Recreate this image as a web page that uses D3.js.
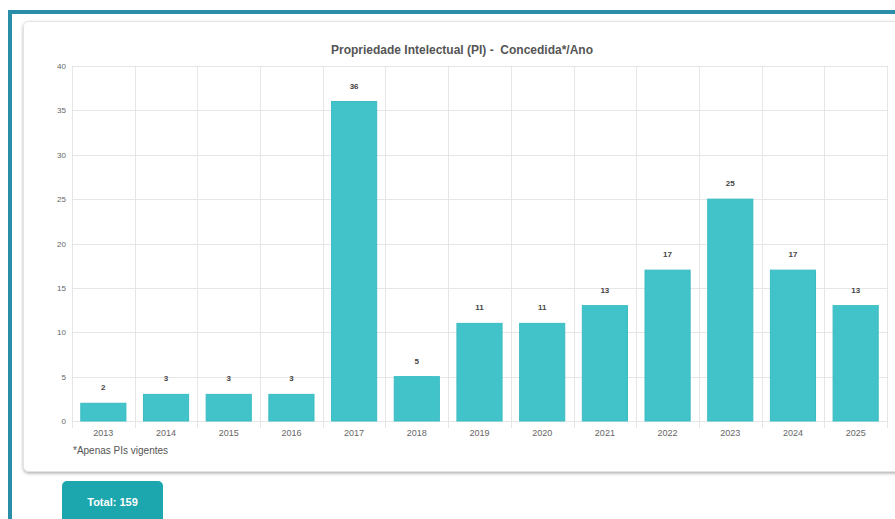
<!DOCTYPE html>
<html>
<head>
<meta charset="utf-8">
<script src="https://cdn.jsdelivr.net/npm/d3@7"></script>
<style>
  html, body { margin: 0; padding: 0; background: #fff; }
  svg { display: block; font-family: "Liberation Sans", Arial, Helvetica, sans-serif; }
</style>
</head>
<body>
<svg id="chart" width="895" height="519"></svg>
<script>
// dados
const anos = ['2013', '2014', '2015', '2016', '2017', '2018', '2019', '2020', '2021', '2022', '2023', '2024', '2025']
const concedidas = [2, 3, 3, 3, 36, 5, 11, 11, 13, 17, 25, 17, 13]
const yTicks = [0, 5, 10, 15, 20, 25, 30, 35, 40]
const titulo = 'Propriedade Intelectual (PI) -  Concedida*/Ano'
const nota = '*Apenas PIs vigentes'
const total = concedidas.reduce((a, b) => a + b, 0)

const svg = d3.select('#chart')

// sombra do card
const defs = svg.append('defs')
const f = defs.append('filter').attr('id', 'sombra')
  .attr('x', '-5%').attr('y', '-5%').attr('width', '110%').attr('height', '115%')
f.append('feDropShadow')
  .attr('dx', 0).attr('dy', 1.5).attr('stdDeviation', 1.5)
  .attr('flood-color', '#000').attr('flood-opacity', 0.3)

// moldura azul
svg.append('rect').attr('x', 8).attr('y', 10).attr('width', 4).attr('height', 519).attr('fill', '#2a8ea8')
svg.append('rect').attr('x', 8).attr('y', 10).attr('width', 895).attr('height', 4).attr('fill', '#2a8ea8')

// card
svg.append('rect')
  .attr('x', 23.5).attr('y', 21.5)
  .attr('width', 900).attr('height', 450)
  .attr('rx', 5)
  .attr('fill', '#fff')
  .attr('stroke', '#e3e3e3')
  .attr('filter', 'url(#sombra)')

const x = d3.scaleBand().domain(anos).range([72, 887]).padding(0)
const y = d3.scaleLinear().domain([0, 40]).range([421, 66])

const g = svg.append('g')

// grade horizontal
g.append('g').selectAll('line')
  .data(yTicks)
  .join('line')
  .attr('x1', 72).attr('x2', 887)
  .attr('y1', d => Math.round(y(d)) + 0.5)
  .attr('y2', d => Math.round(y(d)) + 0.5)
  .attr('stroke', '#e6e6e6')

// grade vertical
const limites = anos.map(a => x(a)).concat([x.range()[1]])
g.append('g').selectAll('line')
  .data(limites)
  .join('line')
  .attr('x1', d => Math.round(d) + 0.5).attr('x2', d => Math.round(d) + 0.5)
  .attr('y1', 66).attr('y2', 428)
  .attr('stroke', '#e6e6e6')

// eixo y
const yAxis = g.append('g')
  .attr('transform', 'translate(66,0)')
  .call(d3.axisLeft(y).tickValues(yTicks).tickSize(0).tickPadding(0))
yAxis.select('.domain').remove()
yAxis.selectAll('text')
  .attr('fill', '#666')
  .style('font-size', '8px')
  .style('font-family', '"Liberation Sans", Arial, sans-serif')

// eixo x
const xAxis = g.append('g')
  .attr('transform', 'translate(0,428)')
  .call(d3.axisBottom(x).tickSize(0).tickPadding(2))
xAxis.select('.domain').remove()
xAxis.selectAll('text')
  .attr('fill', '#666')
  .style('font-size', '9px')
  .style('font-family', '"Liberation Sans", Arial, sans-serif')

// barras
const larg = x.bandwidth() * 0.72
const dados = anos.map((a, i) => ({ ano: a, v: concedidas[i] }))
g.append('g').selectAll('rect')
  .data(dados)
  .join('rect')
  .attr('x', d => x(d.ano) + (x.bandwidth() - larg) / 2)
  .attr('y', d => y(d.v))
  .attr('width', larg)
  .attr('height', d => y(0) - y(d.v))
  .attr('fill', '#41c3c9')
  .attr('stroke', '#3bbcc3')
  .attr('stroke-width', 1)

// rótulos de valor
g.append('g').selectAll('text')
  .data(dados)
  .join('text')
  .attr('x', d => x(d.ano) + x.bandwidth() / 2)
  .attr('y', d => y(d.v) - 13)
  .attr('text-anchor', 'middle')
  .attr('fill', '#444')
  .style('font-size', '8px')
  .style('font-weight', 'bold')
  .text(d => d.v)

// título
svg.append('text')
  .attr('x', 462).attr('y', 54)
  .attr('text-anchor', 'middle')
  .attr('fill', '#555')
  .style('font-size', '12px')
  .style('font-weight', 'bold')
  .style('white-space', 'pre')
  .text(titulo)

// nota
svg.append('text')
  .attr('x', 73).attr('y', 454)
  .attr('fill', '#555')
  .style('font-size', '10px')
  .text(nota)

// botão total
svg.append('rect')
  .attr('x', 62).attr('y', 481)
  .attr('width', 101).attr('height', 60)
  .attr('rx', 5)
  .attr('fill', '#1ca6ae')
svg.append('text')
  .attr('x', 112.5).attr('y', 506)
  .attr('text-anchor', 'middle')
  .attr('fill', '#fff')
  .style('font-size', '11px')
  .style('font-weight', 'bold')
  .text('Total: ' + total)
</script>
</body>
</html>
